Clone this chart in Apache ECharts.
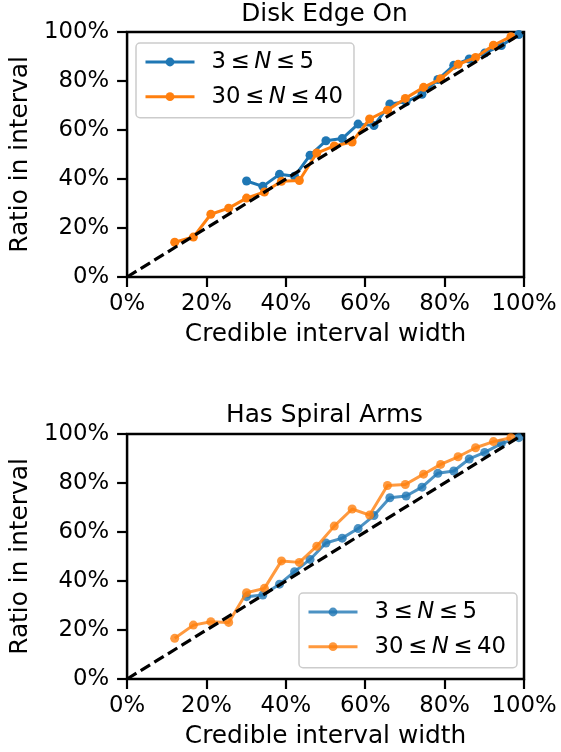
<!DOCTYPE html>
<html>
<head>
<meta charset="utf-8">
<script src="https://cdn.jsdelivr.net/npm/echarts@6/dist/echarts.min.js"></script>
<style>
  html, body { margin: 0; padding: 0; background: #fff; }
  #chart { width: 561px; height: 752px; }
</style>
</head>
<body>
<div id="chart"></div>
<script>
  // credible interval widths used for each group
  const widthsFew = [0.301, 0.342, 0.384, 0.422, 0.461, 0.501, 0.542, 0.582, 0.622, 0.662, 0.703, 0.743, 0.783, 0.823, 0.862, 0.901, 0.943, 0.987]
  const widthsMany = [0.12, 0.167, 0.211, 0.256, 0.301, 0.346, 0.389, 0.434, 0.478, 0.522, 0.567, 0.611, 0.656, 0.701, 0.747, 0.79, 0.834, 0.878, 0.923, 0.967]

  // Disk Edge On
  const edgeFew = [0.392, 0.370, 0.419, 0.411, 0.497, 0.556, 0.565, 0.624, 0.618, 0.706, 0.715, 0.746, 0.806, 0.864, 0.890, 0.914, 0.945, 0.990]
  const edgeMany = [0.142, 0.163, 0.256, 0.281, 0.322, 0.347, 0.391, 0.394, 0.506, 0.535, 0.551, 0.645, 0.681, 0.729, 0.774, 0.809, 0.868, 0.896, 0.946, 0.981]

  // Has Spiral Arms
  const spiralFew = [0.336, 0.343, 0.387, 0.438, 0.488, 0.555, 0.575, 0.614, 0.667, 0.740, 0.747, 0.783, 0.840, 0.849, 0.898, 0.925, 0.961, 0.985]
  const spiralMany = [0.166, 0.220, 0.234, 0.231, 0.352, 0.370, 0.482, 0.476, 0.542, 0.624, 0.694, 0.669, 0.790, 0.794, 0.836, 0.876, 0.907, 0.944, 0.969, 0.985]

  const ticks = [0, 0.2, 0.4, 0.6, 0.8, 1.0]
  const identity = [[0, 0], [1, 1]]

  const titles = ["Disk Edge On", "Has Spiral Arms"]
  const nameFew = "3 ≤ N ≤ 5"
  const nameMany = "30 ≤ N ≤ 40"

  const FONT = "DejaVu Sans"
  const BLUE = "#1f77b4"
  const ORANGE = "#ff7f0e"
  const TICK_SIZE = 22.8
  const LABEL_SIZE = 24.8

  const pct = (v) => Math.round(v * 100) + "%"
  const pairs = (xs, ys) => xs.map((x, i) => [x, ys[i]])

  function xAxis(gi) {
    return {
      type: "value", gridIndex: gi, min: ticks[0], max: ticks[ticks.length - 1], interval: 0.2,
      name: "Credible interval width", nameLocation: "middle", nameGap: 45,
      nameTextStyle: { fontFamily: FONT, fontSize: LABEL_SIZE, color: "#000" },
      axisLine: { show: false },
      axisTick: { show: true, inside: false, length: 10, lineStyle: { color: "#000", width: 2.2 } },
      axisLabel: { formatter: pct, fontFamily: FONT, fontSize: TICK_SIZE, color: "#000", margin: 16 },
      splitLine: { show: false },
    }
  }
  function yAxis(gi) {
    return {
      type: "value", gridIndex: gi, min: ticks[0], max: ticks[ticks.length - 1], interval: 0.2,
      name: "Ratio in interval", nameLocation: "middle", nameGap: 84,
      nameTextStyle: { fontFamily: FONT, fontSize: LABEL_SIZE, color: "#000" },
      axisLine: { show: false },
      axisTick: { show: true, inside: false, length: 10, lineStyle: { color: "#000", width: 2.2 } },
      axisLabel: { formatter: pct, fontFamily: FONT, fontSize: TICK_SIZE, color: "#000", margin: 18 },
      splitLine: { show: false },
    }
  }
  function groupSeries(gi, xs, ys, name, color, alpha, z) {
    return {
      name: name, type: "line", xAxisIndex: gi, yAxisIndex: gi,
      data: pairs(xs, ys),
      symbol: "circle", symbolSize: 9, showSymbol: true,
      lineStyle: { color: color, width: 3, opacity: alpha },
      itemStyle: { color: color, opacity: alpha },
      z: z, animation: false,
    }
  }
  function diagonal(gi) {
    return {
      type: "line", xAxisIndex: gi, yAxisIndex: gi, data: identity,
      symbol: "none", silent: true, z: 5,
      lineStyle: { color: "#000", width: 3.2, type: [11, 5] },
      animation: false,
    }
  }
  // math-style label: thin spaces round the relation, italic N
  const mathLabel = (n) => n.replace(/ /g, "\u2009").replace("N", "{i|N}")

  function legend(left, top, alpha) {
    return {
      left: left, top: top, orient: "vertical",
      data: [nameFew, nameMany],
      itemWidth: 49, itemHeight: 11, itemGap: 10.7,
      padding: [7, 11, 9, 8],
      backgroundColor: "rgba(255,255,255,0.8)",
      borderColor: "#cccccc", borderWidth: 1.5, borderRadius: 4,
      lineStyle: { width: 3, opacity: alpha },
      itemStyle: { opacity: alpha },
      formatter: mathLabel,
      textStyle: {
        fontFamily: FONT, fontSize: TICK_SIZE, color: "#000", lineHeight: 24,
        padding: [0, 0, 0, 12],
        rich: { i: { fontFamily: FONT, fontSize: TICK_SIZE, fontStyle: "italic", color: "#000", lineHeight: 24 } },
      },
      selectedMode: false,
    }
  }

  const chart = echarts.init(document.getElementById("chart"), null, { renderer: "canvas" })
  const option = {
    backgroundColor: "#fff",
    animation: false,
    title: [
      { text: titles[0], left: 324.5, top: 2, padding: 0, textAlign: "center",
        textStyle: { fontFamily: FONT, fontSize: LABEL_SIZE, fontWeight: "normal", color: "#000" } },
      { text: titles[1], left: 324.5, top: 403, padding: 0, textAlign: "center",
        textStyle: { fontFamily: FONT, fontSize: LABEL_SIZE, fontWeight: "normal", color: "#000" } },
    ],
    grid: [
      { left: 125, top: 32, width: 399, height: 245, show: true, borderColor: "#000", borderWidth: 2.5, backgroundColor: "transparent" },
      { left: 125, top: 434, width: 399, height: 245, show: true, borderColor: "#000", borderWidth: 2.5, backgroundColor: "transparent" },
    ],
    xAxis: [xAxis(0), xAxis(1)],
    yAxis: [yAxis(0), yAxis(1)],
    legend: [legend(136, 43, 1), legend(299, 593, 0.8)],
    series: [
      groupSeries(0, widthsFew, edgeFew, nameFew, BLUE, 1, 2),
      groupSeries(0, widthsMany, edgeMany, nameMany, ORANGE, 1, 3),
      diagonal(0),
      groupSeries(1, widthsFew, spiralFew, nameFew, BLUE, 0.8, 2),
      groupSeries(1, widthsMany, spiralMany, nameMany, ORANGE, 0.8, 3),
      diagonal(1),
    ],
  }
  chart.setOption(option)
</script>
</body>
</html>
